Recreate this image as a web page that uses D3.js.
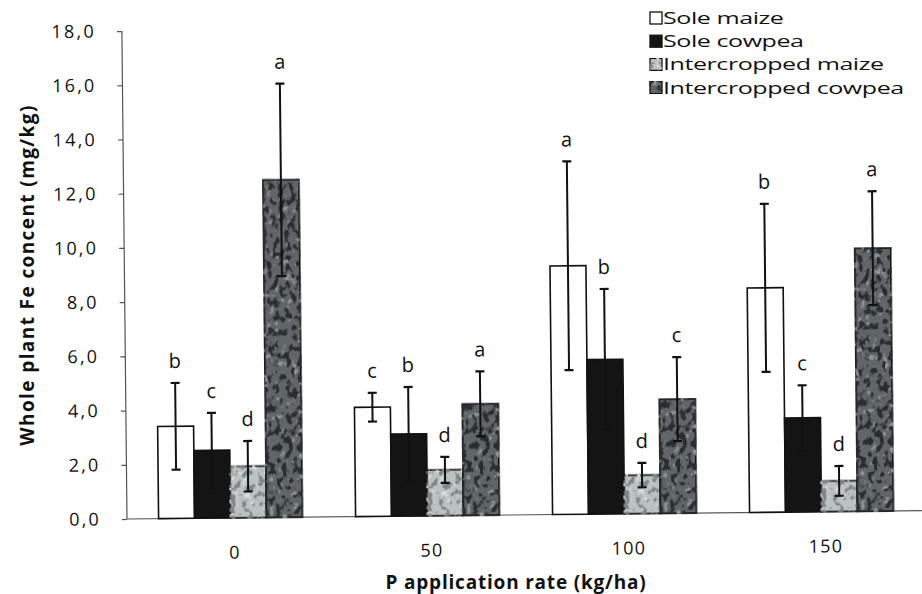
<!DOCTYPE html>
<html>
<head>
<meta charset="utf-8">
<script src="https://cdn.jsdelivr.net/npm/d3@7"></script>
<style>
  html, body { margin: 0; padding: 0; background: #fff; }
  svg { display: block; }
  text { font-family: "Open Sans", "Lato", sans-serif; fill: #111; }
</style>
</head>
<body>
<svg id="chart" width="922" height="594"></svg>
<script>
// P application rates (kg/ha) and the four cropping treatments
const categories = ["0", "50", "100", "150"];
const seriesNames = ["Sole maize", "Sole cowpea", "Intercropped maize", "Intercropped cowpea"];

// Whole plant Fe concentration (mg/kg): means, error bars and significance letters
const soleMaize      = [3.40, 4.03, 9.17, 8.28];
const soleMaizeErr   = [1.60, 0.53, 3.85, 3.10];
const soleMaizeSig   = ["b", "c", "a", "b"];

const soleCowpea     = [2.50, 3.03, 5.70, 3.47];
const soleCowpeaErr  = [1.38, 1.73, 2.60, 1.20];
const soleCowpeaSig  = ["c", "b", "b", "c"];

const interMaize     = [1.90, 1.69, 1.42, 1.13];
const interMaizeErr  = [0.93, 0.48, 0.45, 0.55];
const interMaizeSig  = ["d", "d", "d", "d"];

const interCowpea    = [12.45, 4.11, 4.21, 9.70];
const interCowpeaErr = [3.55, 1.20, 1.55, 2.10];
const interCowpeaSig = ["a", "a", "c", "a"];

const yTicks = [0, 2, 4, 6, 8, 10, 12, 14, 16, 18];

const series = [
  { name: seriesNames[0], key: "sm", values: soleMaize,   err: soleMaizeErr,   sig: soleMaizeSig },
  { name: seriesNames[1], key: "sc", values: soleCowpea,  err: soleCowpeaErr,  sig: soleCowpeaSig },
  { name: seriesNames[2], key: "im", values: interMaize,  err: interMaizeErr,  sig: interMaizeSig },
  { name: seriesNames[3], key: "ic", values: interCowpea, err: interCowpeaErr, sig: interCowpeaSig }
];

const svg = d3.select("#chart");
const defs = svg.append("defs");

// mottled fills: dark blotches from the red noise channel, light flecks from the green one
function mottle(id, seed, freq, darkColor, darkCut, lightColor, lightCut) {
  const f = defs.append("filter").attr("id", id)
    .attr("color-interpolation-filters", "sRGB")
    .attr("x", "-10%").attr("y", "-2%").attr("width", "120%").attr("height", "104%");
  f.append("feTurbulence").attr("type", "fractalNoise")
    .attr("baseFrequency", freq).attr("numOctaves", 2).attr("seed", seed).attr("result", "noise");
  const dc = d3.color(darkColor), lc = d3.color(lightColor);
  f.append("feColorMatrix").attr("in", "noise").attr("type", "matrix")
    .attr("values", `0 0 0 0 ${dc.r / 255}  0 0 0 0 ${dc.g / 255}  0 0 0 0 ${dc.b / 255}  9 0 0 0 ${-9 * darkCut}`)
    .attr("result", "dark");
  f.append("feColorMatrix").attr("in", "noise").attr("type", "matrix")
    .attr("values", `0 0 0 0 ${lc.r / 255}  0 0 0 0 ${lc.g / 255}  0 0 0 0 ${lc.b / 255}  0 9 0 0 ${-9 * lightCut}`)
    .attr("result", "light");
  f.append("feComposite").attr("in", "dark").attr("in2", "SourceGraphic").attr("operator", "in").attr("result", "darkIn");
  f.append("feComposite").attr("in", "light").attr("in2", "SourceGraphic").attr("operator", "in").attr("result", "lightIn");
  const m = f.append("feMerge");
  m.append("feMergeNode").attr("in", "SourceGraphic");
  m.append("feMergeNode").attr("in", "lightIn");
  m.append("feMergeNode").attr("in", "darkIn");
}
mottle("texLight", 4, "0.18 0.14", "#7e8585", 0.53, "#d8dcdc", 0.6);
mottle("texDark", 9, "0.17 0.13", "#2a2d2f", 0.52, "#8e9495", 0.6);

const fills = { sm: "#ffffff", sc: "#141414", im: "#bcc1c1", ic: "#606568" };
const filters = { sm: null, sc: null, im: "url(#texLight)", ic: "url(#texDark)" };

const yBase = 519, yTop = 31, xLeft = 127, xRight = 922;

const y = d3.scaleLinear().domain([0, 18]).range([yBase, yTop]);
const x0 = d3.scaleBand().domain(categories).range([132, 920])
  .paddingInner(0.27).paddingOuter(0.135);
const x1 = d3.scaleBand().domain(series.map(s => s.key)).range([0, x0.bandwidth()]);

const comma = d3.formatLocale({ decimal: ",", thousands: ".", grouping: [3], currency: ["", ""] }).format(".1f");

// the plotted area sits very slightly tilted
const g = svg.append("g").attr("transform", `rotate(-0.6, ${xLeft}, ${yBase})`);

// y axis
const yAxis = g.append("g").attr("transform", `translate(${xLeft},0)`)
  .call(d3.axisLeft(y).tickValues(yTicks).tickFormat(comma).tickSize(5).tickPadding(21).tickSizeOuter(0));
yAxis.select(".domain").attr("stroke", "#555").attr("stroke-width", 1.2).attr("d", `M0,${yBase}V${y(18)}`);
yAxis.selectAll(".tick line").attr("stroke", "#555").attr("stroke-width", 1.2);
yAxis.selectAll(".tick text").attr("font-size", 18).attr("letter-spacing", 2.2)
  .style("font-family", "'Open Sans', sans-serif").attr("fill", "#111");

// x axis
const xAxis = g.append("g").attr("transform", `translate(0,${yBase})`)
  .call(d3.axisBottom(x0).tickSize(0).tickPadding(28));
xAxis.select(".domain").attr("stroke", "#555").attr("stroke-width", 1.2).attr("d", `M${xLeft},0H${xRight}`);
xAxis.selectAll(".tick text").attr("font-size", 18).attr("letter-spacing", 1.2).attr("dx", 4)
  .style("font-family", "'Open Sans', sans-serif").attr("fill", "#111");

// bars with error bars and significance letters
const groups = g.append("g").selectAll("g.cat").data(categories).join("g")
  .attr("class", "cat").attr("transform", d => `translate(${x0(d)},0)`);

groups.each(function (cat, ci) {
  const sel = d3.select(this);
  series.forEach(s => {
    const v = s.values[ci], e = s.err[ci];
    const bx = x1(s.key), bw = x1.bandwidth();
    sel.append("rect")
      .attr("x", bx).attr("y", y(v)).attr("width", bw).attr("height", y(0) - y(v))
      .attr("fill", fills[s.key]).attr("stroke", "#111").attr("stroke-width", 1.6)
      .attr("filter", filters[s.key]);
    const cx = bx + bw / 2;
    sel.append("line").attr("x1", cx).attr("x2", cx).attr("y1", y(v - e)).attr("y2", y(v + e))
      .attr("stroke", "#111").attr("stroke-width", 2);
    [v - e, v + e].forEach(t => {
      sel.append("line").attr("x1", cx - 4.5).attr("x2", cx + 4.5).attr("y1", y(t)).attr("y2", y(t))
        .attr("stroke", "#111").attr("stroke-width", 2.2);
    });
    sel.append("text").attr("x", cx).attr("y", y(v + e) - 15)
      .attr("text-anchor", "middle").attr("font-size", 20).text(s.sig[ci]);
  });
});

// axis titles
svg.append("text")
  .attr("transform", `translate(34,${(yBase + yTop) / 2}) rotate(-90)`)
  .attr("text-anchor", "middle").attr("font-size", 19).attr("font-weight", 700)
  .attr("letter-spacing", 1.4)
  .text("Whole plant Fe concent (mg/kg)");

svg.append("text")
  .attr("x", 516).attr("y", 589)
  .attr("text-anchor", "middle").attr("font-size", 19).attr("font-weight", 700)
  .attr("letter-spacing", 0.8)
  .text("P application rate (kg/ha)");

// legend
const legend = svg.append("g").attr("transform", "translate(650,18)");
series.forEach((s, i) => {
  const row = legend.append("g").attr("transform", `translate(0,${i * 23.2})`);
  row.append("rect").attr("x", 0).attr("y", -6).attr("width", 12).attr("height", 12)
    .attr("fill", fills[s.key]).attr("stroke", "#111").attr("stroke-width", 1.3)
    .attr("filter", filters[s.key]);
  row.append("text").attr("transform", "translate(13,0) scale(1.52,1)")
    .attr("dy", "0.36em").attr("font-size", 16.5).attr("letter-spacing", -0.3).text(s.name);
});
</script>
</body>
</html>
